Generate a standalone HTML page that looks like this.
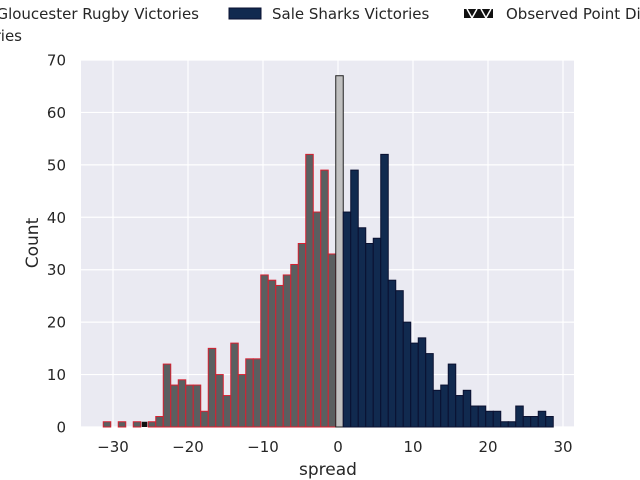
<!DOCTYPE html>
<html><head><meta charset="utf-8"><style>
body{margin:0;background:#fff;}
svg{display:block;font-family:"DejaVu Sans","Liberation Sans",sans-serif;}
</style></head><body>
<svg id="chart" width="640" height="480"></svg>
<script>
const redBins=[-31,-30,-29,-28,-27,-26,-25,-24,-23,-22,-21,-20,-19,-18,-17,-16,-15,-14,-13,-12,-11,-10,-9,-8,-7,-6,-5,-4,-3,-2,-1];
const redCounts=[1,0,1,0,1,0,1,2,12,8,9,8,8,3,15,10,6,16,10,13,13,29,28,27,29,31,35,52,41,49,33];
const drawBins=[0];
const drawCounts=[67];
const blueBins=[1,2,3,4,5,6,7,8,9,10,11,12,13,14,15,16,17,18,19,20,21,22,23,24,25,26,27,28];
const blueCounts=[41,49,38,35,36,52,28,26,20,16,17,14,7,8,12,6,7,4,4,3,3,1,1,4,2,2,3,2];
const observedBin=[-26];
const observedCount=[1];
const xTicks=[-30,-20,-10,0,10,20,30];
const yTicks=[0,10,20,30,40,50,60,70];

const NS="http://www.w3.org/2000/svg";
const svg=document.getElementById('chart');
const L=81,R=574,T=60,B=427;
const xs=v=>338+v*7.5;
const ys=v=>B-v*(B-T)/70;
function mk(tag,attrs,parent){const e=document.createElementNS(NS,tag);for(const k in attrs)e.setAttribute(k,attrs[k]);(parent||svg).appendChild(e);return e;}

const bg=mk('rect',{x:L,y:T,width:R-L,height:B-T,fill:'#eaeaf2'});


xTicks.forEach(t=>{
  const l=mk('line',{x1:xs(t),x2:xs(t),y1:T,y2:B,stroke:'#fff','stroke-width':1.2});
  
  
  const tx=mk('text',{x:xs(t),y:B+25,'text-anchor':'middle','font-size':15,fill:'#262626'});
  tx.textContent=(t<0?'\u2212'+(-t):t);
  
  
});
yTicks.forEach(t=>{
  const l=mk('line',{x1:L,x2:R,y1:ys(t),y2:ys(t),stroke:'#fff','stroke-width':1.2});
  
  
  const tx=mk('text',{x:L-15,y:ys(t)+5.5,'text-anchor':'end','font-size':15,fill:'#262626'});
  tx.textContent=t;
  
  
});
function bars(bins,counts,fill,stroke,name){
  bins.forEach((b,i)=>{
    if(counts[i]<=0)return;
    const x0=xs(b-0.3),x1=xs(b+0.7);
    const r=mk('rect',{x:x0,y:ys(counts[i]),width:x1-x0,height:ys(0)-ys(counts[i]),fill:fill,stroke:stroke,'stroke-width':1});
    
    
  });
}
bars(redBins,redCounts,'#5a5f60','#d62030','gloucester-bar');
bars(drawBins,drawCounts,'#c0c0c0','#222','draw-bar');
bars(blueBins,blueCounts,'#112a4f','#0a1030','sale-bar');
observedBin.forEach((b,i)=>{
  const x0=xs(b-0.3),x1=xs(b+0.7);
  const r=mk('rect',{x:x0+1,y:ys(observedCount[i]),width:x1-x0-2,height:ys(0)-ys(observedCount[i]),fill:'#111'});
  
  
});

const xl=mk('text',{x:328,y:475,'text-anchor':'middle','font-size':17,fill:'#262626'});
xl.textContent='spread';


const yl=mk('text',{x:38,y:243,'text-anchor':'middle','font-size':17,fill:'#262626',transform:'rotate(-90 38 243)'});
yl.textContent='Count';



// legend
const lg=mk('g',{});


const t1=mk('text',{x:199,y:19,'text-anchor':'end','font-size':15,fill:'#262626'},lg);
t1.textContent='Gloucester Rugby Victories';


const p2=mk('rect',{x:229,y:8,width:32,height:11,fill:'#112a4f',stroke:'#0a1030'},lg);


const t2=mk('text',{x:272,y:19,'font-size':15,fill:'#262626'},lg);
t2.textContent='Sale Sharks Victories';


const p3=mk('rect',{x:464,y:9,width:29,height:9,fill:'#111'},lg);


const h3=mk('path',{d:'M467,9 L472,18 L477,9 M481,9 L486,18 L491,9',stroke:'#fff','stroke-width':1.5,fill:'none'},lg);


const t3=mk('text',{x:506,y:19,'font-size':15,fill:'#262626'},lg);
t3.textContent='Observed Point Difference';


const t4=mk('text',{x:22,y:41,'text-anchor':'end','font-size':15,fill:'#262626'},lg);
t4.textContent='Draw Victories';


</script>
</body></html>
